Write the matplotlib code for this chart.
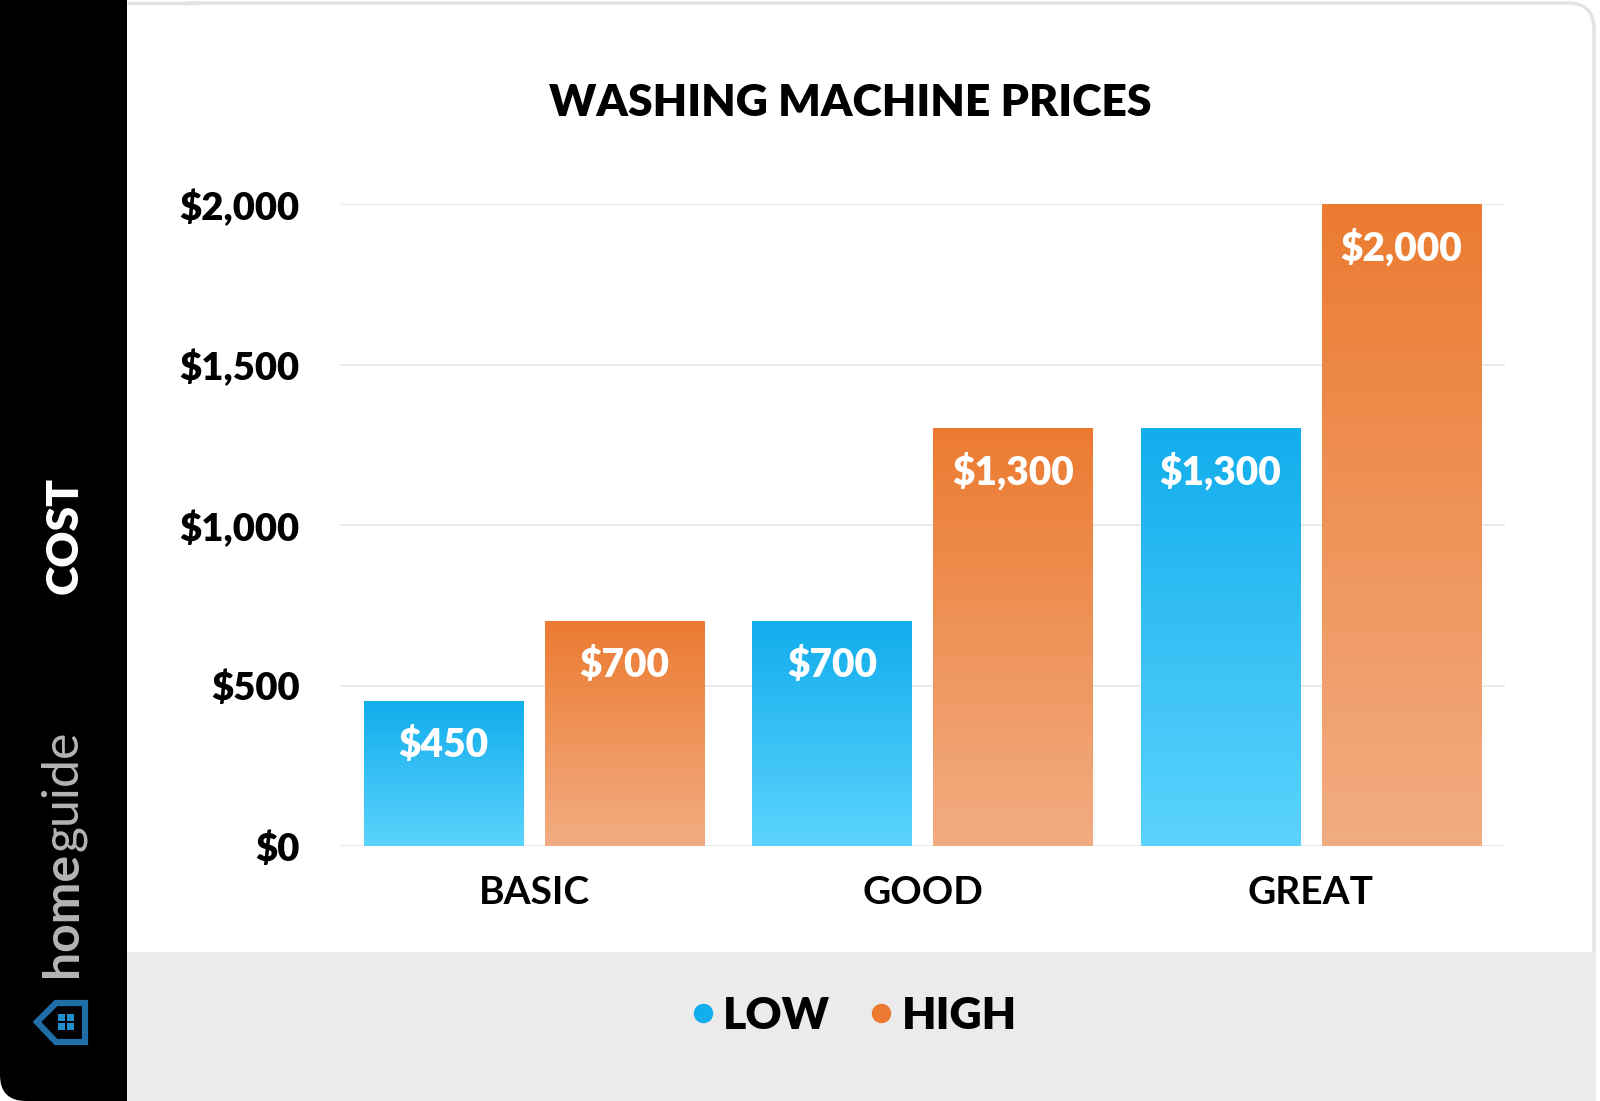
import numpy as np
import matplotlib
matplotlib.use("Agg")
import matplotlib.pyplot as plt
from matplotlib.patches import FancyBboxPatch, Rectangle, Polygon
from matplotlib.colors import LinearSegmentedColormap
from matplotlib.lines import Line2D

categories = ["BASIC", "GOOD", "GREAT"]
low_values = [450, 700, 1300]
high_values = [700, 1300, 2000]
series_names = ["LOW", "HIGH"]
yticks = [0, 500, 1000, 1500, 2000]
ytick_labels = ["$0", "$500", "$1,000", "$1,500", "$2,000"]
title = "WASHING MACHINE PRICES"

FONT = "Lato"
W, H = 1600, 1101
fig = plt.figure(figsize=(W / 100, H / 100), dpi=100)
fig.patch.set_facecolor("white")

# background axes in pixel coordinates
bg = fig.add_axes([0, 0, 1, 1])
bg.set_xlim(0, W)
bg.set_ylim(H, 0)
bg.axis("off")

# card with light border
bg.add_patch(FancyBboxPatch((-40, 3), W - 4 + 40 - 2, H + 40,
                            boxstyle="round,pad=0,rounding_size=26",
                            facecolor="white", edgecolor="#e3e3e3", lw=2.5, zorder=0))
# bottom gray band
bg.add_patch(Rectangle((127, 952), W - 127 - 5, H - 952, facecolor="#ebebeb",
                       edgecolor="none", zorder=1))
# black sidebar (rounded bottom-left corner)
bg.add_patch(FancyBboxPatch((0, -40), 160, H + 40,
                            boxstyle="round,pad=0,rounding_size=26",
                            facecolor="black", edgecolor="none", zorder=2))
bg.add_patch(Rectangle((127, -40), 60, 952 + 40, facecolor="white", edgecolor="none", zorder=2.5))
bg.add_patch(Rectangle((127, 952), 60, H - 952, facecolor="#ebebeb", edgecolor="none", zorder=2.6))
bg.plot([127, 200], [3.2, 3.2], color="#e3e3e3", lw=2.5, zorder=2.7, solid_capstyle="butt")

# COST label
bg.text(65, 535, "COST", rotation=90, color="white", fontsize=32, fontweight="heavy",
        family=FONT, ha="center", va="center", zorder=3)

# homeguide logo text
t1 = bg.text(63, 977, "home", rotation=90, rotation_mode="anchor", color="#b5b5b5",
             fontsize=36, fontweight="bold", family=FONT, ha="left", va="center", zorder=3)
fig.canvas.draw()
ext = t1.get_window_extent()
top_px = H - ext.y1
bg.text(63, top_px - 1, "guide", rotation=90, rotation_mode="anchor", color="#b5b5b5",
        fontsize=36, fontweight="normal", family=FONT, ha="left", va="center", zorder=3)

# house icon
bg.add_patch(Polygon([(37, 1022), (56, 1003), (85, 1003), (85, 1042), (56, 1042)],
                     closed=True, facecolor="none", edgecolor="#1f6ea8", lw=4.5,
                     joinstyle="miter", zorder=3))
for dx in (-5, 4):
    for dy in (-5, 4):
        bg.add_patch(Rectangle((66 + dx - 3.0, 1022 + dy - 3.0), 7, 7,
                               facecolor="#1e8fd3", edgecolor="none", zorder=3))

# title
bg.text(850, 103, title, color="black", fontsize=32, fontweight="heavy", family=FONT,
        ha="center", va="center", zorder=3)

# main chart axes
ax = fig.add_axes([340 / W, 1 - 846 / H, (1505 - 340) / W, (846 - 204) / H])
ax.set_facecolor("none")
x = np.arange(len(categories))
bw = 0.41
off = 0.233
bars_low = ax.bar(x - off, low_values, width=bw, color="none", zorder=2)
bars_high = ax.bar(x + off, high_values, width=bw, color="none", zorder=2)

cmap_low = LinearSegmentedColormap.from_list("low", ["#5bd3fd", "#12adec"])
cmap_high = LinearSegmentedColormap.from_list("high", ["#f2ac82", "#ec7b31"])
grad = np.linspace(0, 1, 256).reshape(-1, 1)
for bars, cmap, vals in ((bars_low, cmap_low, low_values), (bars_high, cmap_high, high_values)):
    for b, v in zip(bars, vals):
        x0 = b.get_x()
        w = b.get_width()
        h = b.get_height()
        ax.imshow(grad, cmap=cmap, origin="lower", aspect="auto",
                  extent=(x0, x0 + w, 0, h), zorder=2, interpolation="bicubic")
        lbl = "${:,}".format(v)
        ax.text(x0 + w / 2, h - 137, lbl, color="white", fontsize=28, fontweight="heavy",
                family=FONT, ha="center", va="center", zorder=4)

ax.set_xlim(-0.5, 2.5)
ax.set_ylim(0, 2000)
ax.set_yticks(yticks)
ax.set_yticklabels(ytick_labels, fontsize=27.5, fontweight="heavy", family=FONT)
ax.set_xticks(x)
ax.set_xticklabels(categories, fontsize=28, fontweight="bold", family=FONT)
ax.tick_params(axis="y", length=0, pad=29)
ax.tick_params(axis="x", length=0, pad=21)
for s in ax.spines.values():
    s.set_visible(False)
ax.grid(axis="y", color="#e6e6e6", lw=1.2, zorder=0)
ax.set_axisbelow(True)

handles = [Line2D([], [], marker="o", ls="none", color="#12adec", markersize=13),
           Line2D([], [], marker="o", ls="none", color="#ec7b31", markersize=13)]
leg = fig.legend(handles, series_names, loc="center", bbox_to_anchor=(850 / W, 1 - 1016 / H),
                 ncol=2, frameon=False, handletextpad=0.0, columnspacing=0.7,
                 handlelength=0.9, prop={"family": FONT, "weight": "heavy", "size": 32})

fig.savefig("out.png", dpi=100, facecolor=fig.get_facecolor())
